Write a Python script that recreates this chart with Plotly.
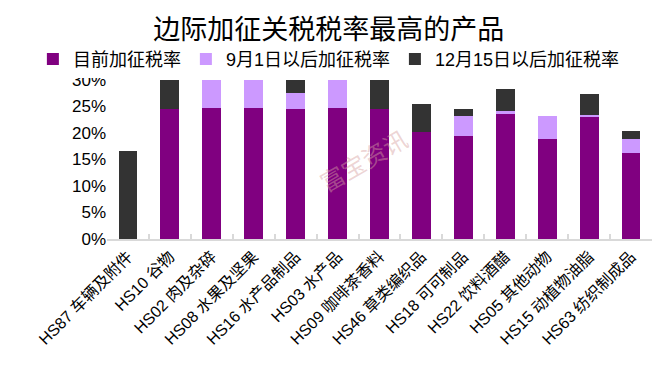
import plotly.graph_objects as go

categories = ["HS87 车辆及附件", "HS10 谷物", "HS02 肉及杂碎", "HS08 水果及坚果", "HS16 水产品制品",
              "HS03 水产品", "HS09 咖啡茶香料", "HS46 草类编织品", "HS18 可可制品", "HS22 饮料酒醋",
              "HS05 其他动物", "HS15 动植物油脂", "HS63 纺织制成品"]
# increments (stacked segments), in percent
current_rate = [0, 24.5, 24.7, 24.7, 24.5, 24.7, 24.5, 20.2, 19.5, 23.5, 18.8, 23.1, 16.2]
sep1_add = [0, 0, 5.3, 5.3, 3.1, 5.3, 0, 0, 3.7, 0.7, 4.5, 0.25, 2.7]
dec15_add = [16.6, 5.5, 0, 0, 2.4, 0, 5.5, 5.2, 1.3, 4.1, 0, 3.95, 1.4]
series_names = ["目前加征税率", "9月1日以后加征税率", "12月15日以后加征税率"]
colors = ["#800080", "#CC99FF", "#333333"]
y_ticks = [0, 5, 10, 15, 20, 25, 30]
y_tick_labels = ["0%", "5%", "10%", "15%", "20%", "25%", "30%"]

fig = go.Figure()
for name, vals, c in zip(series_names, [current_rate, sep1_add, dec15_add], colors):
    fig.add_trace(go.Bar(x=categories, y=vals, name=name, marker=dict(color=c, line=dict(width=0))))

font_main = "Liberation Sans, Arial, Noto Sans CJK SC"
fig.update_layout(
    width=667, height=378,
    barmode="stack", bargap=0.55,
    plot_bgcolor="white", paper_bgcolor="white",
    margin=dict(l=107, r=15, t=80, b=139, autoexpand=False),
    title=dict(text="边际加征关税税率最高的产品", x=0.493, xanchor="center",
               yref="container", y=1 - 30 / 378, yanchor="middle",
               font=dict(family="Noto Sans CJK SC", size=27, color="black")),
    legend=dict(orientation="h", x=-0.136, xanchor="left",
                y=1.13, yanchor="middle",
                font=dict(family=font_main, size=18, color="black"),
                itemwidth=30, traceorder="normal", tracegroupgap=0),
    xaxis=dict(tickangle=-45, tickfont=dict(family=font_main, size=16, color="black"),
               showline=True, linecolor="#d9d9d9", linewidth=2, automargin=False,
               ticks="inside", tickson="boundaries", ticklen=5, tickcolor="#d9d9d9", tickwidth=2,
               showgrid=False),
    yaxis=dict(range=[0, 30], tickvals=y_ticks, ticktext=y_tick_labels, automargin=False,
               tickfont=dict(family=font_main, size=17, color="black"),
               showgrid=False, zeroline=False, showline=False, ticks=""),
)
fig.add_annotation(text="富宝资讯", xref="paper", yref="paper", x=0.47, y=0.5, showarrow=False,
                   textangle=-30, font=dict(family="Noto Sans CJK SC", size=24, color="rgba(215,160,160,0.45)"))
fig.write_html("out.html", config={"displayModeBar": False},
               post_script="document.body.style.margin='0';")
